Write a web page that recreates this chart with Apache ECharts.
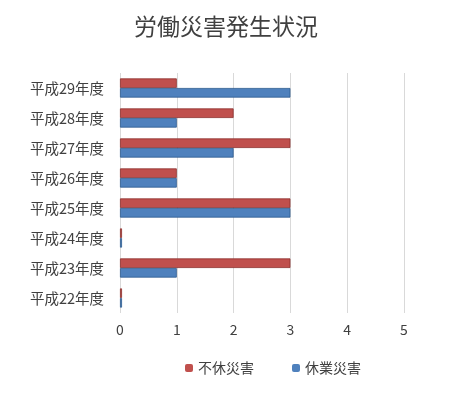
<!DOCTYPE html>
<html><head><meta charset="utf-8">
<script src="https://cdn.jsdelivr.net/npm/echarts@6/dist/echarts.min.js"></script>
<style>html,body{margin:0;padding:0;background:#fff}#c{width:452px;height:400px}</style>
</head><body><div id="c"></div>
<script>
const categories = ['平成22年度','平成23年度','平成24年度','平成25年度','平成26年度','平成27年度','平成28年度','平成29年度'];
const fukyu = [0, 3, 0, 3, 1, 3, 2, 1];   // 不休災害
const kyugyo = [0, 1, 0, 3, 1, 2, 1, 3];  // 休業災害
const xTicks = [0, 5, 1];
const font = '"Noto Sans CJK JP", sans-serif';
const chart = echarts.init(document.getElementById('c'));
chart.setOption({
  animation: false,
  title: { text: '労働災害発生状況', left: 'center', top: 10,
    textStyle: { fontFamily: font, fontSize: 23, fontWeight: 'normal', color: '#404040' } },
  legend: { bottom: 20, left: 180, itemWidth: 8, itemHeight: 8, itemGap: 38,
    data: ['不休災害', '休業災害'],
    itemStyle: { borderWidth: 0 },
    textStyle: { fontFamily: font, fontSize: 14, color: '#404040' } },
  grid: { left: 120, right: 48, top: 73, bottom: 87 },
  xAxis: { type: 'value', min: xTicks[0], max: xTicks[1], interval: xTicks[2],
    axisLine: { show: false }, axisTick: { show: false },
    splitLine: { lineStyle: { color: '#d9d9d9' } },
    axisLabel: { fontFamily: font, fontSize: 14, color: '#404040', margin: 10 } },
  yAxis: { type: 'category', data: categories,
    axisLine: { show: false }, axisTick: { show: false },
    axisLabel: { fontFamily: font, fontSize: 14.5, color: '#404040', margin: 16 } },
  series: [
    { name: '不休災害', type: 'bar', data: fukyu, barGap: '0%', barCategoryGap: '36%', barMinHeight: 2,
      itemStyle: { color: '#C0504D', borderColor: '#8c2f2c', borderWidth: 0.8 } },
    { name: '休業災害', type: 'bar', data: kyugyo, barGap: '0%', barCategoryGap: '36%', barMinHeight: 2,
      itemStyle: { color: '#4F81BD', borderColor: '#2c5a8f', borderWidth: 0.8 } }
  ]
});
</script></body></html>
